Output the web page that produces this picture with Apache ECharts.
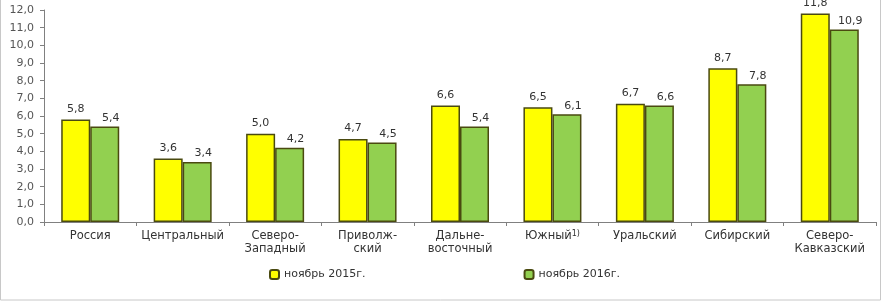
<!DOCTYPE html>
<html>
<head>
<meta charset="utf-8">
<script src="https://cdn.jsdelivr.net/npm/echarts@6/dist/echarts.min.js"></script>
<style>
  html, body { margin: 0; padding: 0; background: #fff; }
  #chart { width: 882px; height: 303px; }
</style>
</head>
<body>
<div id="chart"></div>
<script>
var regions = ['Россия', 'Центральный', 'Северо-\nЗападный', 'Приволж-\nский', 'Дальне-\nвосточный', 'Южный', 'Уральский', 'Сибирский', 'Северо-\nКавказский'];
var nov2015 = [5.8, 3.6, 5.0, 4.7, 6.6, 6.5, 6.7, 8.7, 11.8];
var nov2016 = [5.4, 3.4, 4.2, 4.5, 5.4, 6.1, 6.6, 7.8, 10.9];
var seriesNames = ['ноябрь 2015г.', 'ноябрь 2016г.'];

var chart = echarts.init(document.getElementById('chart'));

function fmt(v) { // запятая вместо точки
  return Number(v).toFixed(1).replace('.', ',');
}

var option = {
  animation: false,
  textStyle: { fontFamily: 'DejaVu Sans, Verdana, sans-serif' },
  grid: { left: 44, right: 6, top: 10, bottom: 81 },
  legend: {
    bottom: 18,
    left: 264,
    itemGap: 158,
    itemWidth: 9,
    itemHeight: 9,
    textStyle: { fontSize: 11, color: '#333' },
    data: seriesNames
  },
  xAxis: {
    type: 'category',
    data: regions,
    axisLine: { lineStyle: { color: '#808080', width: 1 } },
    axisTick: { show: true, length: 4, lineStyle: { color: '#808080' } },
    axisLabel: {
      interval: 0,
      fontSize: 11.5,
      color: '#333',
      lineHeight: 13,
      margin: 8,
      formatter: function (val) {
        if (val === 'Южный') return 'Южный{sup|1)}';
        return val;
      },
      rich: {
        sup: { fontSize: 8, verticalAlign: 'top', padding: [0, 0, 6, 0], color: '#333' }
      }
    }
  },
  yAxis: {
    type: 'value',
    min: 0,
    max: 12,
    interval: 1,
    axisLine: { show: true, lineStyle: { color: '#808080', width: 1 } },
    axisTick: { show: true, length: 4, lineStyle: { color: '#808080' } },
    splitLine: { show: false },
    axisLabel: {
      fontSize: 11,
      color: '#555',
      margin: 10,
      formatter: fmt
    }
  },
  series: [{
    name: seriesNames[0],
    type: 'bar',
    data: nov2015,
    barWidth: 29,
    barGap: '0%',
    itemStyle: { color: '#ffff00', borderColor: '#4a4a10', borderWidth: 1.5 },
    label: {
      show: true, position: 'top', distance: 5, fontSize: 11, color: '#333',
      formatter: function (p) { return fmt(p.value); }
    }
  }, {
    name: seriesNames[1],
    type: 'bar',
    data: nov2016,
    barWidth: 29,
    barGap: '0%',
    itemStyle: { color: '#92d050', borderColor: '#4a4a10', borderWidth: 1.5 },
    label: {
      show: true, position: 'top', distance: 3, offset: [6, 0], fontSize: 11, color: '#333',
      formatter: function (p) { return fmt(p.value); }
    }
  }],
  graphic: [{
    type: 'rect',
    shape: { x: 0.5, y: -5, width: 880, height: 305 },
    style: { fill: 'none', stroke: '#c8c8c8', lineWidth: 1 },
    silent: true
  }]
};

chart.setOption(option);
</script>
</body>
</html>
